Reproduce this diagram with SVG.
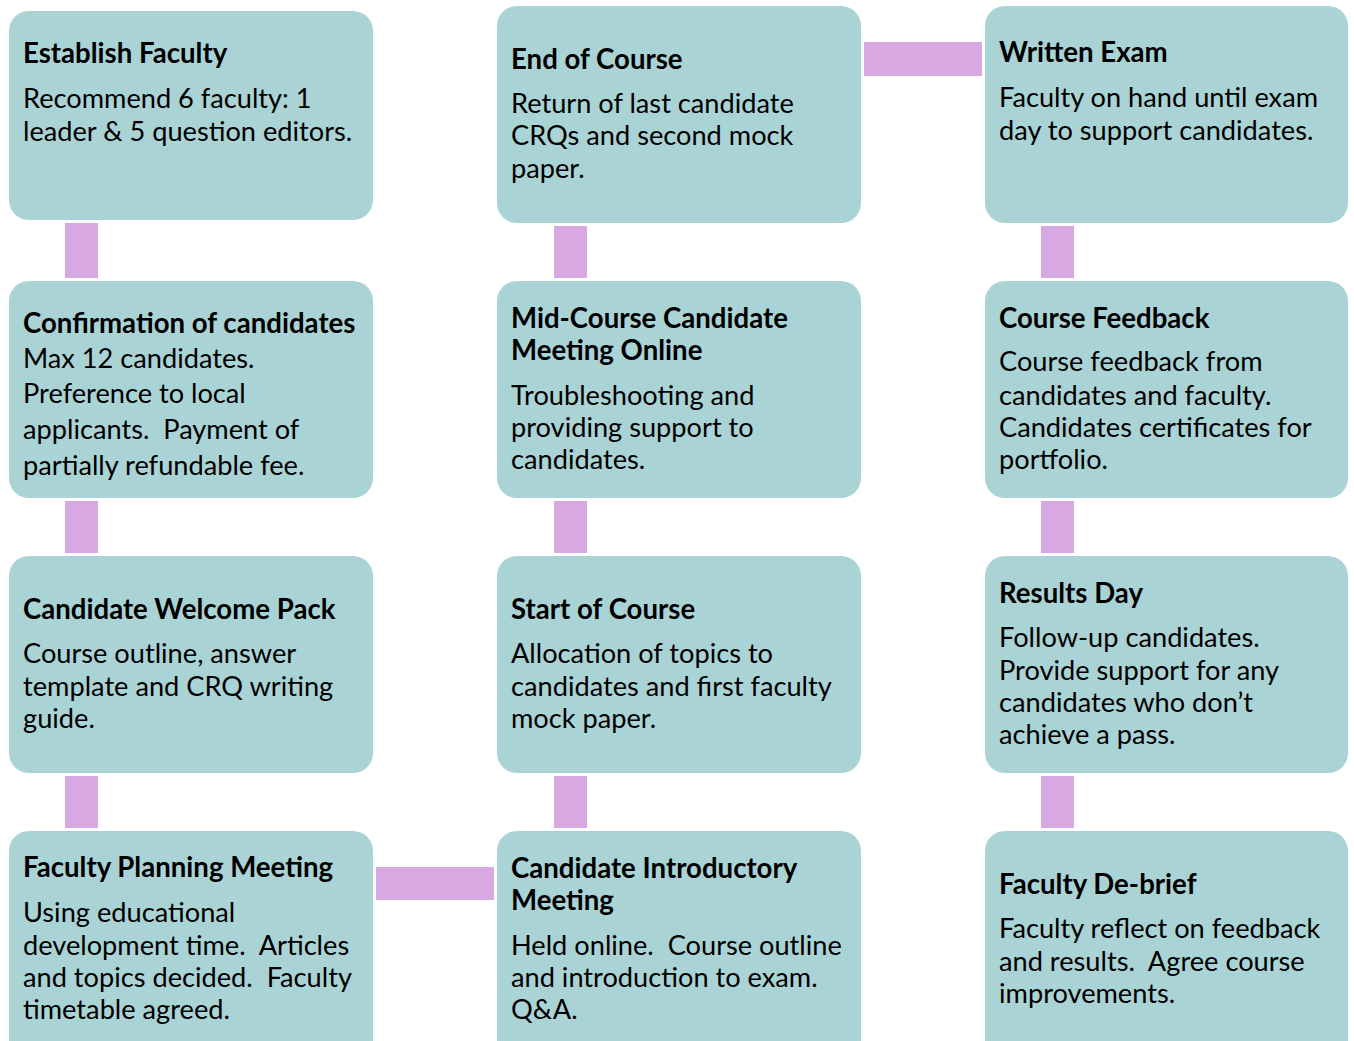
<svg xmlns="http://www.w3.org/2000/svg" width="1354" height="1041" viewBox="0 0 1354 1041">
  <style>
    .box { fill: #AAD3D5; }
    .link { fill: #D7A8E2; }
    text { font-family: Lato, "Liberation Sans", sans-serif; font-size: 27.2px; fill: #000; }
    .t { font-weight: bold; font-size: 27.6px; }
  </style>
  <rect width="1354" height="1041" fill="#fff"/>

  <!-- connectors -->
  <g id="connectors">
    <rect class="link" x="65" y="223" width="33" height="55"/>
    <rect class="link" x="65" y="501" width="33" height="52"/>
    <rect class="link" x="65" y="776" width="33" height="52"/>
    <rect class="link" x="376" y="867" width="118" height="33"/>
    <rect class="link" x="554" y="776" width="33" height="52"/>
    <rect class="link" x="554" y="501" width="33" height="52"/>
    <rect class="link" x="554" y="226" width="33" height="52"/>
    <rect class="link" x="864" y="42" width="118" height="34"/>
    <rect class="link" x="1041" y="226" width="33" height="52"/>
    <rect class="link" x="1041" y="501" width="33" height="52"/>
    <rect class="link" x="1041" y="776" width="33" height="52"/>
  </g>

  <!-- column 1 -->
  <g id="establish-faculty">
    <rect class="box" x="9" y="11" width="364" height="209" rx="20"/>
    <text class="t" x="23" y="63">Establish Faculty</text>
    <text x="23" y="108">Recommend 6 faculty: 1</text>
    <text x="23" y="141">leader &amp; 5 question editors.</text>
  </g>
  <g id="confirmation">
    <rect class="box" x="9" y="281" width="364" height="217" rx="20"/>
    <text class="t" x="23" y="333">Confirmation of candidates</text>
    <text x="23" y="368">Max 12 candidates.</text>
    <text x="23" y="403">Preference to local</text>
    <text x="23" y="439" xml:space="preserve">applicants.  Payment of</text>
    <text x="23" y="475">partially refundable fee.</text>
  </g>
  <g id="welcome-pack">
    <rect class="box" x="9" y="556" width="364" height="217" rx="20"/>
    <text class="t" x="23" y="619">Candidate Welcome Pack</text>
    <text x="23" y="663">Course outline, answer</text>
    <text x="23" y="696">template and CRQ writing</text>
    <text x="23" y="728">guide.</text>
  </g>
  <g id="faculty-planning">
    <rect class="box" x="9" y="831" width="364" height="240" rx="20"/>
    <text class="t" x="23" y="877">Faculty Planning Meeting</text>
    <text x="23" y="922">Using educational</text>
    <text x="23" y="955" xml:space="preserve">development time.  Articles</text>
    <text x="23" y="987" xml:space="preserve">and topics decided.  Faculty</text>
    <text x="23" y="1019">timetable agreed.</text>
  </g>

  <!-- column 2 -->
  <g id="end-of-course">
    <rect class="box" x="497" y="6" width="364" height="217" rx="20"/>
    <text class="t" x="511" y="69">End of Course</text>
    <text x="511" y="113">Return of last candidate</text>
    <text x="511" y="145">CRQs and second mock</text>
    <text x="511" y="178">paper.</text>
  </g>
  <g id="mid-course">
    <rect class="box" x="497" y="281" width="364" height="217" rx="20"/>
    <text class="t" x="511" y="328">Mid-Course Candidate</text>
    <text class="t" x="511" y="360">Meeting Online</text>
    <text x="511" y="405">Troubleshooting and</text>
    <text x="511" y="437">providing support to</text>
    <text x="511" y="469">candidates.</text>
  </g>
  <g id="start-of-course">
    <rect class="box" x="497" y="556" width="364" height="217" rx="20"/>
    <text class="t" x="511" y="619">Start of Course</text>
    <text x="511" y="663">Allocation of topics to</text>
    <text x="511" y="696">candidates and first faculty</text>
    <text x="511" y="728">mock paper.</text>
  </g>
  <g id="introductory-meeting">
    <rect class="box" x="497" y="831" width="364" height="240" rx="20"/>
    <text class="t" x="511" y="878">Candidate Introductory</text>
    <text class="t" x="511" y="910">Meeting</text>
    <text x="511" y="955" xml:space="preserve">Held online.  Course outline</text>
    <text x="511" y="987">and introduction to exam.</text>
    <text x="511" y="1019">Q&amp;A.</text>
  </g>

  <!-- column 3 -->
  <g id="written-exam">
    <rect class="box" x="985" y="6" width="363" height="217" rx="20"/>
    <text class="t" x="999" y="62">Written Exam</text>
    <text x="999" y="107">Faculty on hand until exam</text>
    <text x="999" y="140">day to support candidates.</text>
  </g>
  <g id="course-feedback">
    <rect class="box" x="985" y="281" width="363" height="217" rx="20"/>
    <text class="t" x="999" y="328">Course Feedback</text>
    <text x="999" y="371">Course feedback from</text>
    <text x="999" y="405">candidates and faculty.</text>
    <text x="999" y="437">Candidates certificates for</text>
    <text x="999" y="469">portfolio.</text>
  </g>
  <g id="results-day">
    <rect class="box" x="985" y="556" width="363" height="217" rx="20"/>
    <text class="t" x="999" y="603">Results Day</text>
    <text x="999" y="647">Follow-up candidates.</text>
    <text x="999" y="680">Provide support for any</text>
    <text x="999" y="712">candidates who don’t</text>
    <text x="999" y="744">achieve a pass.</text>
  </g>
  <g id="faculty-debrief">
    <rect class="box" x="985" y="831" width="363" height="240" rx="20"/>
    <text class="t" x="999" y="894">Faculty De-brief</text>
    <text x="999" y="938">Faculty reflect on feedback</text>
    <text x="999" y="971" xml:space="preserve">and results.  Agree course</text>
    <text x="999" y="1003">improvements.</text>
  </g>
</svg>
